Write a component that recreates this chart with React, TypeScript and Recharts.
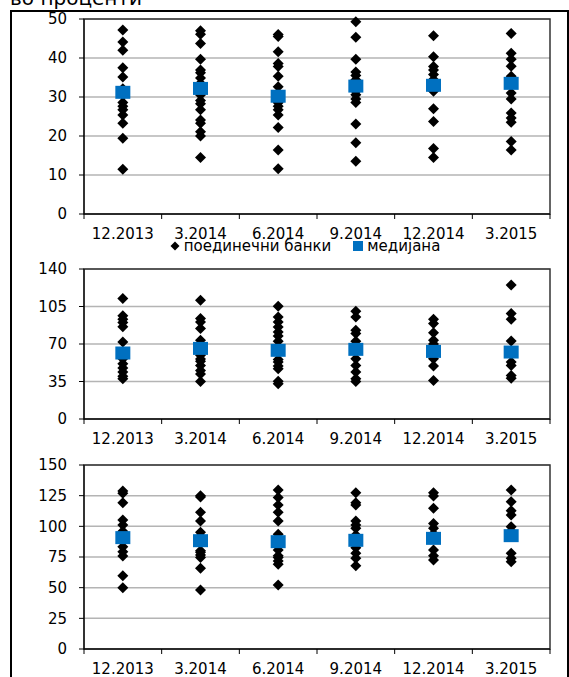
import React from 'react';
import {
  ScatterChart,
  Scatter,
  XAxis,
  YAxis,
  CartesianGrid,
  ReferenceArea,
  Legend,
} from 'recharts';

// periods on the x axis
const periods = ['12.2013', '3.2014', '6.2014', '9.2014', '12.2014', '3.2015'];

// top panel (0-50)
const banksTop = [
  [47.2, 44.1, 42.0, 37.5, 35.1, 32.1, 30.5, 28.6, 27.6, 26.7, 25.4, 23.3, 19.4, 11.5],
  [47.0, 46.1, 43.7, 39.7, 36.9, 36.2, 34.9, 33.5, 30.5, 29.1, 28.3, 26.7, 24.1, 23.3, 21.1, 20.0, 14.5],
  [46.0, 45.5, 41.6, 38.6, 37.8, 35.3, 32.6, 28.5, 27.6, 26.7, 25.4, 22.2, 16.4, 11.6],
  [49.3, 45.3, 39.7, 36.4, 35.5, 34.4, 31.5, 30.6, 29.5, 28.6, 23.1, 18.3, 13.5],
  [45.7, 40.3, 37.8, 36.9, 35.8, 34.5, 31.5, 27.0, 23.7, 16.8, 14.5],
  [46.3, 41.2, 39.7, 37.9, 35.3, 31.0, 29.5, 25.9, 24.6, 23.5, 18.6, 16.4],
];
const medianTop = [31.2, 32.2, 30.2, 32.8, 33.0, 33.5];
const ticksTop = [0, 10, 20, 30, 40, 50];

// middle panel (0-140)
const banksMid = [
  [112.5, 96.3, 93.1, 90.0, 86.0, 71.9, 58.0, 56.3, 51.6, 47.5, 43.8, 40.0, 37.5],
  [110.9, 93.8, 90.6, 84.4, 73.4, 70.0, 59.4, 56.0, 53.8, 50.0, 45.3, 42.0, 35.0],
  [105.3, 95.3, 90.6, 85.9, 81.3, 77.5, 72.5, 55.6, 53.1, 49.4, 46.9, 35.3, 32.8],
  [100.6, 95.3, 82.8, 79.7, 72.5, 56.3, 50.0, 43.8, 37.5, 35.0],
  [93.1, 89.1, 80.6, 73.4, 70.0, 56.3, 49.4, 35.9],
  [125.0, 98.4, 93.1, 72.8, 53.1, 50.0, 40.6, 38.1],
];
const medianMid = [61.6, 65.9, 64.1, 65.0, 63.1, 62.5];
const ticksMid = [0, 35, 70, 105, 140];

// bottom panel (0-150)
const banksBot = [
  [128.8, 126.9, 119.3, 105.2, 101.1, 96.0, 83.4, 79.3, 75.8, 59.8, 50.0],
  [125.0, 124.0, 111.4, 104.3, 95.1, 92.0, 80.0, 78.8, 76.6, 74.5, 65.8, 48.1],
  [129.6, 123.6, 117.4, 111.4, 104.3, 93.5, 80.7, 76.0, 74.5, 71.7, 69.0, 52.2],
  [127.4, 119.3, 117.4, 104.3, 101.0, 98.4, 92.9, 82.6, 78.0, 73.9, 67.9],
  [127.4, 124.7, 114.7, 102.4, 98.4, 94.0, 80.7, 76.1, 72.6],
  [129.6, 120.1, 112.8, 109.2, 99.7, 96.0, 78.0, 73.9, 71.2],
];
const medianBot = [90.8, 88.3, 87.5, 88.6, 90.2, 92.4];
const ticksBot = [0, 25, 50, 75, 100, 125, 150];

const seriesNames = ['поединечни банки', 'медијана'];

const FONT = "'DejaVu Sans', Verdana, sans-serif";
const BLUE = '#0070C0';

// each period sits in the middle of its slot on a 0..n axis
const slotEdges = [...periods.map((_, i) => i), periods.length];
const slotMids = periods.map((_, i) => i + 0.5);

const bankPoints = (cols: number[][]) =>
  cols.flatMap((vals, i) => vals.map((v) => ({ x: slotMids[i], y: v })));
const medianPoints = (vals: number[]) => vals.map((v, i) => ({ x: slotMids[i], y: v }));

const Diamond = (props: any) => {
  const { cx, cy } = props;
  const r = 5.5;
  return (
    <polygon
      points={`${cx},${cy - r} ${cx + r},${cy} ${cx},${cy + r} ${cx - r},${cy}`}
      fill="#000"
    />
  );
};

const MedianBox = (props: any) => {
  const { cx, cy } = props;
  return <rect x={cx - 7.5} y={cy - 6.5} width={15} height={13} fill={BLUE} />;
};

// excel-like legend: small diamond + text, blue square + text
const LegendBody = () => (
  <div
    style={{
      display: 'flex',
      justifyContent: 'center',
      alignItems: 'center',
      fontSize: 15,
      lineHeight: '16px',
      color: '#000',
    }}
  >
    <svg width={10} height={10} style={{ marginRight: 4 }}>
      <polygon points="5,0.5 9.5,5 5,9.5 0.5,5" fill="#000" />
    </svg>
    <span style={{ marginRight: 22 }}>{seriesNames[0]}</span>
    <svg width={10} height={10} style={{ marginRight: 4 }}>
      <rect x={0} y={0} width={10} height={10} fill={BLUE} />
    </svg>
    <span>{seriesNames[1]}</span>
  </div>
);

interface PanelProps {
  banks: number[][];
  median: number[];
  ticks: number[];
  top: number;
  height: number;
  marginTop: number;
  marginBottom: number;
  legend?: boolean;
}

function Panel({ banks, median, ticks, top, height, marginTop, marginBottom, legend }: PanelProps) {
  const yMax = ticks[ticks.length - 1];
  return (
    <div style={{ position: 'absolute', left: 0, top }}>
      <ScatterChart
        width={569}
        height={height}
        margin={{ top: marginTop, right: 19, bottom: marginBottom, left: 24 }}
      >
        <CartesianGrid xAxisId="edge" vertical={false} stroke="#b4b4b4" strokeWidth={1.5} />
        <XAxis
          xAxisId="edge"
          type="number"
          dataKey="x"
          domain={[0, periods.length]}
          ticks={slotEdges}
          interval={0}
          tickFormatter={() => ''}
          tickSize={5}
          height={6}
          axisLine={{ stroke: '#000' }}
          tickLine={{ stroke: '#000' }}
        />
        <XAxis
          xAxisId="lbl"
          type="number"
          dataKey="x"
          domain={[0, periods.length]}
          ticks={slotMids}
          interval={0}
          tickFormatter={(v: number) => periods[Math.floor(v)]}
          axisLine={false}
          tickLine={false}
          tickSize={0}
          tickMargin={8}
          height={legend ? 18 : 20}
          tick={{ fill: '#000', fontSize: 15 }}
        />
        <YAxis
          type="number"
          dataKey="y"
          domain={[0, yMax]}
          ticks={ticks}
          interval={0}
          width={60}
          tickSize={5}
          tickMargin={12}
          axisLine={{ stroke: '#000' }}
          tickLine={{ stroke: '#000' }}
          tick={{ fill: '#000', fontSize: 15 }}
        />
        <ReferenceArea
          xAxisId="edge"
          x1={0}
          x2={periods.length}
          y1={0}
          y2={yMax}
          fill="none"
          stroke="#333"
          strokeWidth={1.5}
        />
        <Scatter
          xAxisId="edge"
          name={seriesNames[0]}
          data={bankPoints(banks)}
          shape={Diamond}
          fill="#000"
          isAnimationActive={false}
        />
        <Scatter
          xAxisId="lbl"
          name={seriesNames[1]}
          data={medianPoints(median)}
          shape={MedianBox}
          fill={BLUE}
          isAnimationActive={false}
        />
        {legend && (
          <Legend
            verticalAlign="bottom"
            content={LegendBody}
            wrapperStyle={{ left: 40, width: 530, height: 18 }}
          />
        )}
      </ScatterChart>
    </div>
  );
}

export default function App() {
  return (
    <div
      style={{
        position: 'absolute',
        left: 0,
        top: 0,
        width: 569,
        height: 677,
        overflow: 'hidden',
        background: '#fff',
        fontFamily: FONT,
      }}
    >
      <div
        style={{
          position: 'absolute',
          left: 10,
          top: -14,
          fontSize: 20,
          lineHeight: 'normal',
          color: '#000',
          whiteSpace: 'nowrap',
        }}
      >
        во проценти
      </div>
      <div
        style={{
          position: 'absolute',
          left: 10,
          top: 10,
          width: 555,
          height: 700,
          borderLeft: '2px solid #000',
          borderTop: '2px solid #000',
          borderRight: '2px solid #000',
        }}
      />
      <Panel banks={banksTop} median={medianTop} ticks={ticksTop} top={0} height={256} marginTop={19} marginBottom={0} legend />
      <Panel banks={banksMid} median={medianMid} ticks={ticksMid} top={255} height={196} marginTop={14} marginBottom={6} />
      <Panel banks={banksBot} median={medianBot} ticks={ticksBot} top={445} height={232} marginTop={20} marginBottom={2} />
    </div>
  );
}
